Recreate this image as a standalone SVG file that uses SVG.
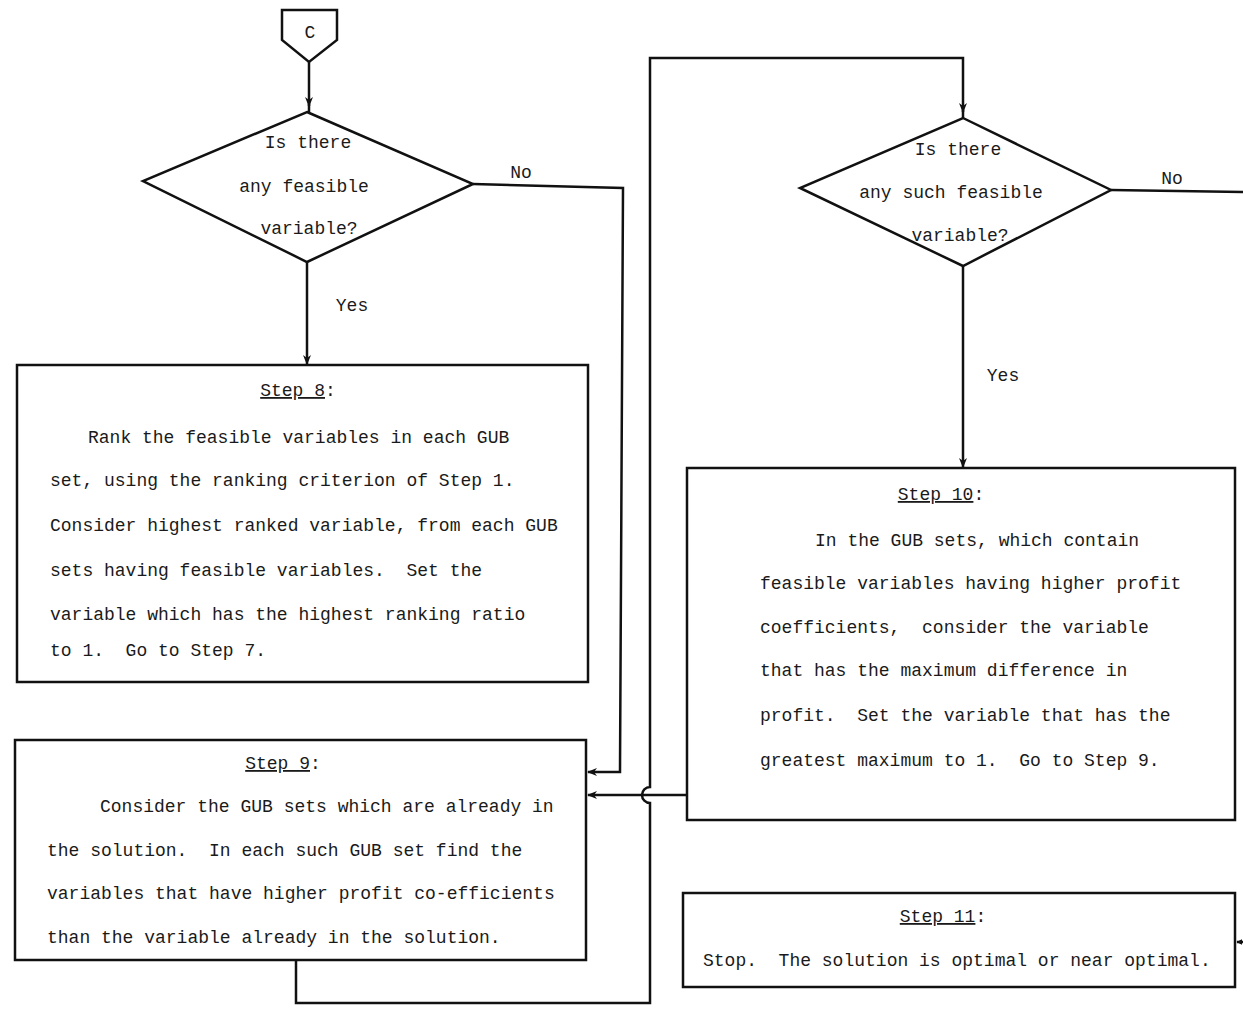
<svg xmlns="http://www.w3.org/2000/svg" width="1243" height="1015" viewBox="0 0 1243 1015" xml:space="preserve">
<style>
.s{fill:none;stroke:#111;stroke-width:2.5}
.b{fill:#fff;stroke:#111;stroke-width:2.5}
text{font-family:"Liberation Mono","DejaVu Sans Mono",monospace;font-size:18px;fill:#1a1a1a;white-space:pre}
.c{text-anchor:middle}
.u{text-decoration:underline}
</style>
<defs>
<marker id="ah" viewBox="0 0 10 10" refX="9" refY="5" markerWidth="6" markerHeight="6" orient="auto" markerUnits="userSpaceOnUse"><path d="M0,0 L10,5 L0,10 z" fill="#111"/></marker>
<marker id="a" viewBox="0 0 10 10" refX="9" refY="5" markerWidth="10" markerHeight="10" orient="auto" markerUnits="userSpaceOnUse"><path d="M0,1 L10,5 L0,9 L3,5 z" fill="#111"/></marker>
</defs>
<rect width="1243" height="1015" fill="#fff"/>
<g id="connectors">
<path class="s" d="M309,62 V106" marker-end="url(#a)"/>
<path class="s" d="M309,104 V112"/>
<path class="s" d="M307,262 V364" marker-end="url(#a)"/>
<path class="s" d="M473,184 L623,188 L620,772 H588" marker-end="url(#a)"/>
<path class="s" d="M296,960 V1003 H650 V803 A8,8 0 0 1 650,787 V58 H963 V112" marker-end="url(#a)"/>
<path class="s" d="M963,110 V118"/>
<path class="s" d="M687,795 H588" marker-end="url(#a)"/>
<path class="s" d="M963,266 V467" marker-end="url(#a)"/>
<path class="s" d="M1111,190 L1243,192"/>
<path class="s" d="M1243,942 H1237" marker-end="url(#ah)"/>
<text x="521" y="178" class="c">No</text>
<text x="352" y="311" class="c">Yes</text>
<text x="1172" y="184" class="c">No</text>
<text x="1003" y="381" class="c">Yes</text>
</g>
<g id="connC">
<path class="b" d="M282,10 H337 V40 L309,62 L282,40 Z"/>
<text x="310" y="38" class="c">C</text>
</g>
<g id="dec1">
<path class="b" d="M307,112 L473,184 L307,262 L143,181 Z"/>
<text x="308" y="148" class="c">Is there</text>
<text x="304" y="192" class="c">any feasible</text>
<text x="309" y="234" class="c">variable?</text>
</g>
<g id="dec2">
<path class="b" d="M963,118 L1111,190 L963,266 L800,188 Z"/>
<text x="958" y="155" class="c">Is there</text>
<text x="951" y="198" class="c">any such feasible</text>
<text x="960" y="241" class="c">variable?</text>
</g>
<g id="step8">
<rect class="b" x="17" y="365" width="571" height="317"/>
<text x="298" y="396" class="c"><tspan class="u">Step 8</tspan>:</text>
<text x="88" y="443">Rank the feasible variables in each GUB</text>
<text x="50" y="486">set, using the ranking criterion of Step 1.</text>
<text x="50" y="531">Consider highest ranked variable, from each GUB</text>
<text x="50" y="576">sets having feasible variables.  Set the</text>
<text x="50" y="620">variable which has the highest ranking ratio</text>
<text x="50" y="656">to 1.  Go to Step 7.</text>
</g>
<g id="step9">
<rect class="b" x="15" y="740" width="571" height="220"/>
<text x="283" y="769" class="c"><tspan class="u">Step 9</tspan>:</text>
<text x="100" y="812">Consider the GUB sets which are already in</text>
<text x="47" y="856">the solution.  In each such GUB set find the</text>
<text x="47" y="899">variables that have higher profit co-efficients</text>
<text x="47" y="943">than the variable already in the solution.</text>
</g>
<g id="step10">
<rect class="b" x="687" y="468" width="548" height="352"/>
<text x="941" y="500" class="c"><tspan class="u">Step 10</tspan>:</text>
<text x="815" y="546">In the GUB sets, which contain</text>
<text x="760" y="589">feasible variables having higher profit</text>
<text x="760" y="633">coefficients,  consider the variable</text>
<text x="760" y="676">that has the maximum difference in</text>
<text x="760" y="721">profit.  Set the variable that has the</text>
<text x="760" y="766">greatest maximum to 1.  Go to Step 9.</text>
</g>
<g id="step11">
<rect class="b" x="683" y="893" width="552" height="94"/>
<text x="943" y="922" class="c"><tspan class="u">Step 11</tspan>:</text>
<text x="703" y="966">Stop.  The solution is optimal or near optimal.</text>
</g>
</svg>
